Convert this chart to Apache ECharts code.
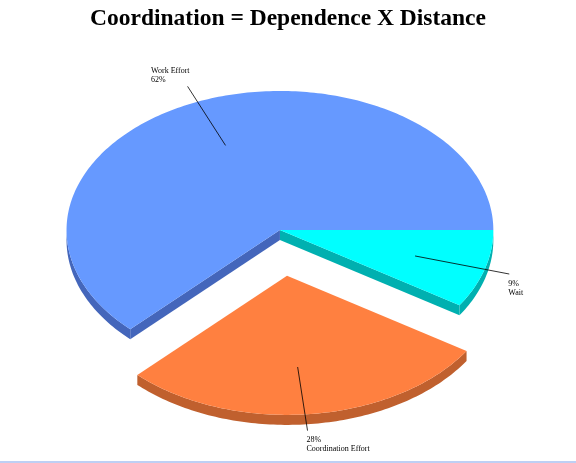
<!DOCTYPE html>
<html>
<head>
<meta charset="utf-8">
<script src="https://cdn.jsdelivr.net/npm/echarts@6/dist/echarts.min.js"></script>
<style>
  html, body { margin: 0; padding: 0; background: #fff; }
  #main { width: 576px; height: 463px; }
</style>
</head>
<body>
<div id="main"></div>
<script>
// data
var categories = ["Wait", "Coordination Effort", "Work Effort"];
var values = [9, 28, 62];
var exploded = [false, true, false];
var labelFirstLine = ["pct", "pct", "name"]; // which line comes first in each label

var topColors = ["#00ffff", "#ff8040", "#6699ff"];
var sideColors = ["#00b0b0", "#c0602e", "#4466bb"];

var total = values.reduce(function (a, b) { return a + b; }, 0);
var startAngles = [];
var acc = 0;
values.forEach(function (v) {
  startAngles.push(acc / total * 360);
  acc += v;
});

var measureCtx = document.createElement("canvas").getContext("2d");
var labelFont = "8px 'Liberation Serif'";
measureCtx.font = labelFont;

function rad(d) { return d * Math.PI / 180; }

function renderSlice(params, api) {
  var i = params.dataIndex;
  var W = api.getWidth(), H = api.getHeight();
  var cx = W * 0.486, cy = H * 0.497;
  var rx = W * 0.3705, ry = rx * 0.652;
  var depth = 10;
  var a = startAngles[i];
  var b = a + api.value(0) / total * 360;
  var m = (a + b) / 2;
  var ox = 0, oy = 0;
  if (exploded[i]) {
    ox = rx * 0.3 * Math.cos(rad(m));
    oy = ry * 0.33 * Math.sin(rad(m));
  }
  function pt(deg, r, dz) {
    return [cx + ox + rx * r * Math.cos(rad(deg)), cy + oy + ry * r * Math.sin(rad(deg)) + (dz || 0)];
  }
  function arc(from, to, dz) {
    var pts = [];
    var n = Math.max(2, Math.ceil(Math.abs(to - from)));
    for (var k = 0; k <= n; k++) pts.push(pt(from + (to - from) * k / n, 1, dz));
    return pts;
  }
  var children = [];
  var c0 = pt(0, 0, 0), c1 = pt(0, 0, depth);

  // outer wall, only front half
  var fa = Math.max(a, 0), fb = Math.min(b, 180);
  if (fb > fa) {
    var wall = arc(fa, fb, 0).concat(arc(fb, fa, depth));
    children.push({ type: "polygon", z2: 1, shape: { points: wall }, style: { fill: sideColors[i] } });
  }
  // radial walls next to an exploded slice
  var n = values.length;
  var prevExp = exploded[(i - 1 + n) % n] || exploded[i];
  var nextExp = exploded[(i + 1) % n] || exploded[i];
  if (prevExp && Math.cos(rad(a)) < 0) {
    children.push({ type: "polygon", z2: 1, shape: { points: [c0, pt(a, 1, 0), pt(a, 1, depth), c1] }, style: { fill: sideColors[i] } });
  }
  if (nextExp && Math.cos(rad(b)) > 0) {
    children.push({ type: "polygon", z2: 1, shape: { points: [c0, pt(b, 1, 0), pt(b, 1, depth), c1] }, style: { fill: sideColors[i] } });
  }
  // top face
  children.push({ type: "polygon", z2: 2, shape: { points: [c0].concat(arc(a, b, 0)) }, style: { fill: topColors[i] } });

  // label + leader line
  var pct = api.value(0) + "%";
  var name = categories[i];
  var text = labelFirstLine[i] === "name" ? name + "\n" + pct : pct + "\n" + name;
  var inner = pt(m, 0.66, 0), outer = pt(m, 1.12, 0);
  if (exploded[i]) { inner[0] -= 5; outer[0] -= 6; }
  children.push({ type: "line", z2: 3, shape: { x1: inner[0], y1: inner[1], x2: outer[0], y2: outer[1] }, style: { stroke: "#000", lineWidth: 0.8 } });
  var lh = 9;
  var tx, ty;
  if (Math.sin(rad(m)) < 0) {
    var w = Math.max(measureCtx.measureText(name).width, measureCtx.measureText(pct).width);
    tx = outer[0] - w + 2;
    ty = outer[1] - 2 * lh - 2;
  } else {
    tx = outer[0] - 1;
    ty = outer[1] + 5;
  }
  children.push({
    type: "text", z2: 3,
    style: { text: text, x: tx, y: ty, font: labelFont, fill: "#000", align: "left", verticalAlign: "top", lineHeight: lh }
  });
  return { type: "group", children: children };
}

var chart = echarts.init(document.getElementById("main"));
chart.setOption({
  backgroundColor: "#fff",
  animation: false,
  title: {
    text: "Coordination = Dependence X Distance",
    left: "center",
    top: 2,
    textStyle: { fontFamily: "Liberation Serif", fontWeight: "bold", fontSize: 23.5, color: "#000" }
  },
  graphic: [{
    type: "line",
    shape: { x1: 0, y1: 462, x2: 576, y2: 462 },
    style: { stroke: "#a9bff0", lineWidth: 1.5 }
  }],
  series: [{
    type: "custom",
    coordinateSystem: "none",
    renderItem: renderSlice,
    data: values.map(function (v, i) { return { name: categories[i], value: [v] }; })
  }]
});
</script>
</body>
</html>
